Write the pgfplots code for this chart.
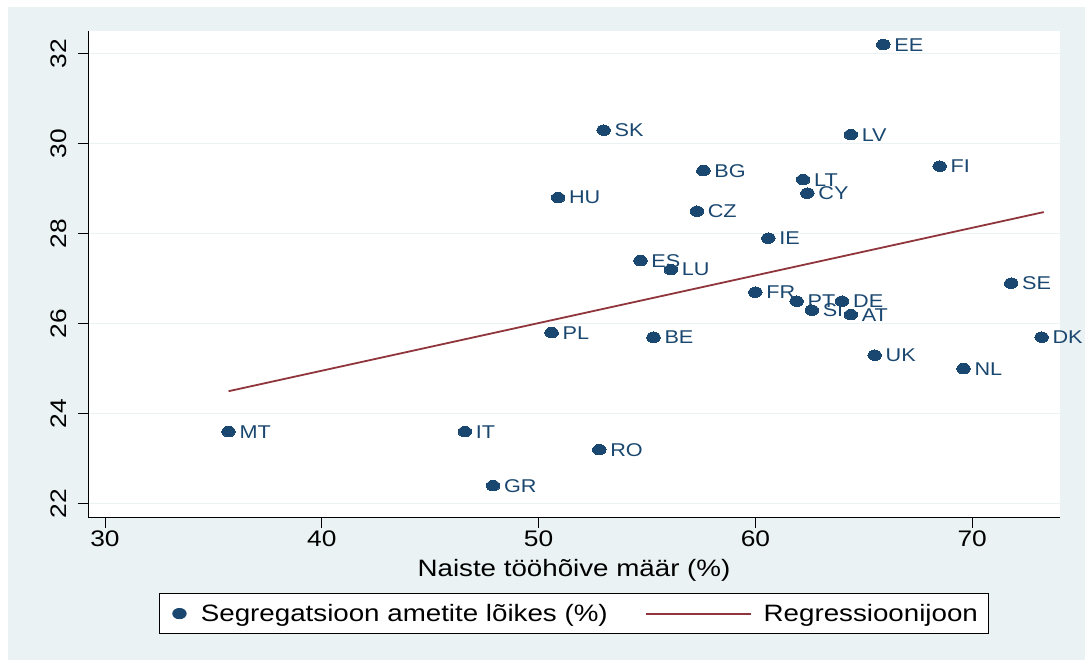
\documentclass[border=0pt]{standalone}
\usepackage{fontspec}
\setmainfont[FakeStretch=1.17]{Liberation Sans}
\usepackage{pgfplots}
\usepackage{pgfplotstable}
\pgfplotsset{compat=1.18}
\definecolor{stnavy}{HTML}{1A476F}
\definecolor{stmaroon}{HTML}{90353B}
\definecolor{stbg}{HTML}{EAF2F3}
\pgfplotstableread{
x y lab
65.9 32.2 EE
53.0 30.3 SK
64.4 30.2 LV
68.5 29.5 FI
57.6 29.4 BG
62.2 29.2 LT
62.4 28.9 CY
50.9 28.8 HU
57.3 28.5 CZ
60.6 27.9 IE
54.7 27.4 ES
56.1 27.2 LU
60.0 26.7 FR
61.9 26.5 PT
64.0 26.5 DE
62.6 26.3 SI
64.4 26.2 AT
71.8 26.9 SE
50.6 25.8 PL
55.3 25.7 BE
73.2 25.7 DK
65.5 25.3 UK
69.6 25.0 NL
35.7 23.6 MT
46.6 23.6 IT
52.8 23.2 RO
47.9 22.4 GR
}\data
\begin{document}
\begin{tikzpicture}[x=1pt,y=1pt]
\fill[white] (0,0) rectangle (1085,662);
\fill[stbg] (8,2) rectangle (1085,655);
\begin{axis}[
  at={(88pt,144.3pt)}, anchor=south west,
  scale only axis, width=972pt, height=486.7pt,
  xmin=29.216, xmax=74.05, ymin=21.689, ymax=32.504,
  axis background/.style={fill=white},
  axis x line*=bottom, axis y line*=left,
  axis line style={black, line width=1pt},
  tick align=outside, major tick length=10pt,
  tick style={black, line width=0.8pt},
  xtick={30,40,50,60,70}, ytick={22,24,26,28,30,32},
  minor tick num=0,
  ymajorgrids, grid style={stbg, line width=1.5pt},
  /pgf/number format/assume math mode=true,
  ticklabel style={font=\fontsize{22.5}{24}\selectfont},
  yticklabel style={rotate=90, anchor=south, yshift=8pt},
  xticklabel style={anchor=north},
  xlabel={Naiste tööhõive määr (\%)},
  xlabel style={font=\fontsize{23.7}{26}\selectfont, at={(axis description cs:0.5,-0.078)}, anchor=north},
  legend style={at={(axis description cs:0.5,-0.197)}, anchor=center,
    draw=black, line width=0.8pt, fill=white, legend columns=2,
    font=\fontsize{23.7}{26}\selectfont, inner xsep=8.5pt, inner ysep=8.5pt,
    /tikz/every even column/.append style={column sep=35pt}},
]
\addplot[only marks, color=stnavy, mark=*, mark size=5.2pt,
  mark options={xscale=1.3, fill=stnavy, draw=stnavy, line width=0pt},
  nodes near coords, point meta=explicit symbolic,
  every node near coord/.style={anchor=west, xshift=11pt, inner sep=0pt,
    font=\fontsize{18.5}{20}\selectfont, text=stnavy},
  legend image code/.code={\draw[mark=*, mark size=5.2pt, mark options={xscale=1.3, fill=stnavy, draw=stnavy}] plot coordinates {(0pt,0pt)};\path (-11pt,0pt) (19pt,0pt);}
] table[x=x, y=y, meta=lab] {\data};
\addlegendentry{Segregatsioon ametite lõikes (\%)}
\addplot[color=stmaroon, line width=1.8pt,
  legend image code/.code={\draw[stmaroon, line width=2pt] (0pt,0pt) -- (105pt,0pt);\path (0pt,0pt) (115pt,0pt);}]
  coordinates {(35.7,24.5) (73.3,28.48)};
\addlegendentry{Regressioonijoon}
\end{axis}
\pgfresetboundingbox
\path (0,0) rectangle (1085,662);
\end{tikzpicture}
\end{document}
